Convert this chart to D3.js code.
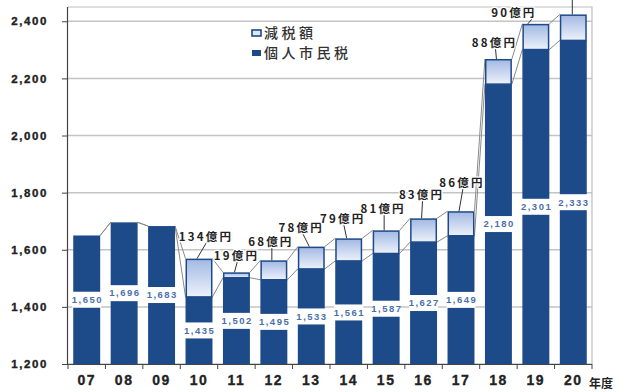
<!DOCTYPE html>
<html>
<head>
<meta charset="utf-8">
<script src="https://cdn.jsdelivr.net/npm/d3@7/dist/d3.min.js"></script>
<style>
  html, body { margin: 0; padding: 0; background: #fff; }
  svg { display: block; }
</style>
</head>
<body>
<svg id="chart" width="620" height="392"></svg>
<script>
// 年度ごとの個人市民税（億円）と減税額（億円）
const years = ["07", "08", "09", "10", "11", "12", "13", "14", "15", "16", "17", "18", "19", "20"];
const taxValues = [1650, 1696, 1683, 1435, 1502, 1495, 1533, 1561, 1587, 1627, 1649, 2180, 2301, 2333];
const reductionValues = [0, 0, 0, 134, 19, 68, 78, 79, 81, 83, 86, 88, 90, 91];
const yTicks = [1200, 1400, 1600, 1800, 2000, 2200, 2400];
const legendLabels = ["減税額", "個人市民税"];
const unitLabel = "年度";

const svg = d3.select("#chart");
const plotL = 68, plotR = 592, plotT = 7, plotB = 364;

const DARK = "#1d4a88";
const GRID = "#c4c4c4";

const x = d3.scaleBand().domain(years).range([plotL, plotR]).paddingInner(0.28).paddingOuter(0.14);
const y = d3.scaleLinear().domain([1200, 2450]).range([plotB, plotT]);
const bw = x.bandwidth();

// gradient for the reduction segment
const defs = svg.append("defs");
const grad = defs.append("linearGradient").attr("id", "lightFill")
  .attr("x1", 0).attr("y1", 0).attr("x2", 0).attr("y2", 1);
grad.append("stop").attr("offset", "0%").attr("stop-color", "#a3b9e3");
grad.append("stop").attr("offset", "100%").attr("stop-color", "#edf2fb");

// gridlines
svg.append("g").selectAll("line").data(yTicks).join("line")
  .attr("x1", plotL).attr("x2", plotR)
  .attr("y1", d => y(d)).attr("y2", d => y(d))
  .attr("stroke", GRID).attr("stroke-width", 1.5);

// frame (top / right)
svg.append("path")
  .attr("d", `M${plotL},${plotT}H${plotR}V${plotB}`)
  .attr("fill", "none").attr("stroke", "#bdbdbd").attr("stroke-width", 1.2);

const rows = years.map((yr, i) => ({
  yr, i, tax: taxValues[i], red: reductionValues[i], total: taxValues[i] + reductionValues[i]
}));

// series lines between neighbouring bars
const lines = svg.append("g").attr("stroke", "#8a8a8a").attr("stroke-width", 1).attr("fill", "none");
rows.slice(0, -1).forEach((d, k) => {
  const n = rows[k + 1];
  const x0 = x(d.yr) + bw, x1 = x(n.yr);
  lines.append("line").attr("x1", x0).attr("x2", x1).attr("y1", y(d.tax)).attr("y2", y(n.tax));
  lines.append("line").attr("x1", x0).attr("x2", x1).attr("y1", y(d.total)).attr("y2", y(n.total));
});

// tax bars
svg.append("g").selectAll("rect").data(rows).join("rect")
  .attr("x", d => x(d.yr)).attr("width", bw)
  .attr("y", d => y(d.tax)).attr("height", d => y(1200) - y(d.tax))
  .attr("fill", DARK);

// reduction segments
svg.append("g").selectAll("rect").data(rows.filter(d => d.red > 0)).join("rect")
  .attr("x", d => x(d.yr) + 0.75).attr("width", bw - 1.5)
  .attr("y", d => y(d.total) + 0.75).attr("height", d => y(d.tax) - y(d.total) - 0.75)
  .attr("fill", "url(#lightFill)").attr("stroke", DARK).attr("stroke-width", 1.5);

// value labels inside the tax bars
const fmt = d3.format(",");
const vl = svg.append("g").selectAll("g").data(rows).join("g")
  .attr("transform", d => `translate(${x(d.yr) + bw / 2},${y((1200 + d.tax) / 2)})`);
vl.append("rect").attr("x", -bw / 2 - 1).attr("width", bw + 2).attr("y", -8).attr("height", 16).attr("fill", "#fff");
vl.append("text").text(d => fmt(d.tax))
  .attr("text-anchor", "middle").attr("dy", "0.35em").attr("dx", 0.7)
  .attr("font-family", "'Liberation Sans', Arial, sans-serif").attr("font-weight", "bold")
  .attr("font-size", 9.5).attr("letter-spacing", 1.5).attr("fill", "#4a70ad");

// callouts for the reduction amounts
const callout = [
  null, null, null,
  { dx: 6, dy: -22 }, { dx: -1, dy: -16 }, { dx: -4, dy: -18 }, { dx: -11, dy: -19 },
  { dx: -7, dy: -19 }, { dx: -4, dy: -21 }, { dx: -3, dy: -23 }, { dx: 0, dy: -28 },
  { dx: -5, dy: -16 }, { dx: -23, dy: -11 }, { dx: 0, dy: -22 }
];
const cg = svg.append("g");
rows.forEach(d => {
  const c = callout[d.i];
  if (!c || d.red <= 0) return;
  const cx = x(d.yr) + bw / 2, ty = y(d.total);
  const lx = cx + c.dx, ly = ty + c.dy;
  const edge = ly < 8; // callout that runs past the top edge keeps only its leader
  cg.append("line")
    .attr("x1", edge ? cx - 1 : lx + (d.i === 12 ? 20 : 2)).attr("y1", edge ? 0 : ly + 5)
    .attr("x2", edge ? cx - 1 : cx - (d.i === 12 ? 8 : 2)).attr("y2", ty)
    .attr("stroke", "#333").attr("stroke-width", 1);
  if (edge) return;
  cg.append("text").text(d.red + "億円")
    .attr("x", lx).attr("y", ly).attr("text-anchor", "middle").attr("dy", "0.35em").attr("dx", 1)
    .attr("font-family", "'Noto Sans CJK JP', sans-serif").attr("font-weight", "bold")
    .attr("font-size", 11.5).attr("letter-spacing", 2.2).attr("fill", "#222")
    .attr("stroke", "#fff").attr("stroke-width", 2.5).attr("paint-order", "stroke");
});

// axes
const yAxis = d3.axisLeft(y).tickValues(yTicks).tickSize(6).tickFormat(d => fmt(d));
const ya = svg.append("g").attr("transform", `translate(${plotL},0)`).call(yAxis);
ya.select(".domain").attr("d", `M-0.5,${plotT}V${plotB}`).attr("stroke", "#444").attr("stroke-width", 1.2);
ya.selectAll(".tick line").attr("stroke", "#444");
ya.selectAll(".tick text").attr("x", -20)
  .attr("font-family", "'Liberation Sans', Arial, sans-serif").attr("font-weight", "bold")
  .attr("font-size", 11.5).attr("letter-spacing", 1.6).attr("fill", "#222")
  .attr("stroke", "#222").attr("stroke-width", 0.35);

const xa = svg.append("g").attr("transform", `translate(0,${plotB})`)
  .call(d3.axisBottom(x).tickSize(0).tickPadding(11));
xa.select(".domain").attr("d", `M${plotL},0.5H${plotR}`).attr("stroke", "#444").attr("stroke-width", 1.2);
xa.selectAll(".tick text")
  .attr("font-family", "'Liberation Sans', Arial, sans-serif").attr("font-weight", "bold")
  .attr("font-size", 14).attr("letter-spacing", 1.5).attr("fill", "#222")
  .attr("stroke", "#222").attr("stroke-width", 0.3);
// category boundary ticks
const bounds = years.map(v => x(v) - x.step() * x.paddingInner() / 2).concat([plotR]);
xa.append("g").selectAll("line").data(bounds).join("line")
  .attr("x1", d => d).attr("x2", d => d).attr("y1", 0).attr("y2", 5)
  .attr("stroke", "#444");

svg.append("text").text(unitLabel).attr("x", 589).attr("y", 388)
  .attr("font-family", "'Noto Sans CJK JP', sans-serif").attr("font-weight", "bold")
  .attr("font-size", 12).attr("fill", "#222");

// legend
const lg = svg.append("g").attr("transform", "translate(252,33)");
legendLabels.forEach((t, k) => {
  const g = lg.append("g").attr("transform", `translate(0,${k * 20})`);
  g.append("rect").attr("x", 0).attr("y", -3).attr("width", 9).attr("height", 6)
    .attr("fill", k === 0 ? "#dfe7f6" : DARK).attr("stroke", DARK).attr("stroke-width", k === 0 ? 1.6 : 0);
  g.append("text").text(t).attr("x", 12).attr("dy", "0.36em")
    .attr("font-family", "'Noto Sans CJK JP', sans-serif").attr("font-weight", 500)
    .attr("font-size", 14).attr("letter-spacing", 3.5).attr("fill", "#333");
});
</script>
</body>
</html>
